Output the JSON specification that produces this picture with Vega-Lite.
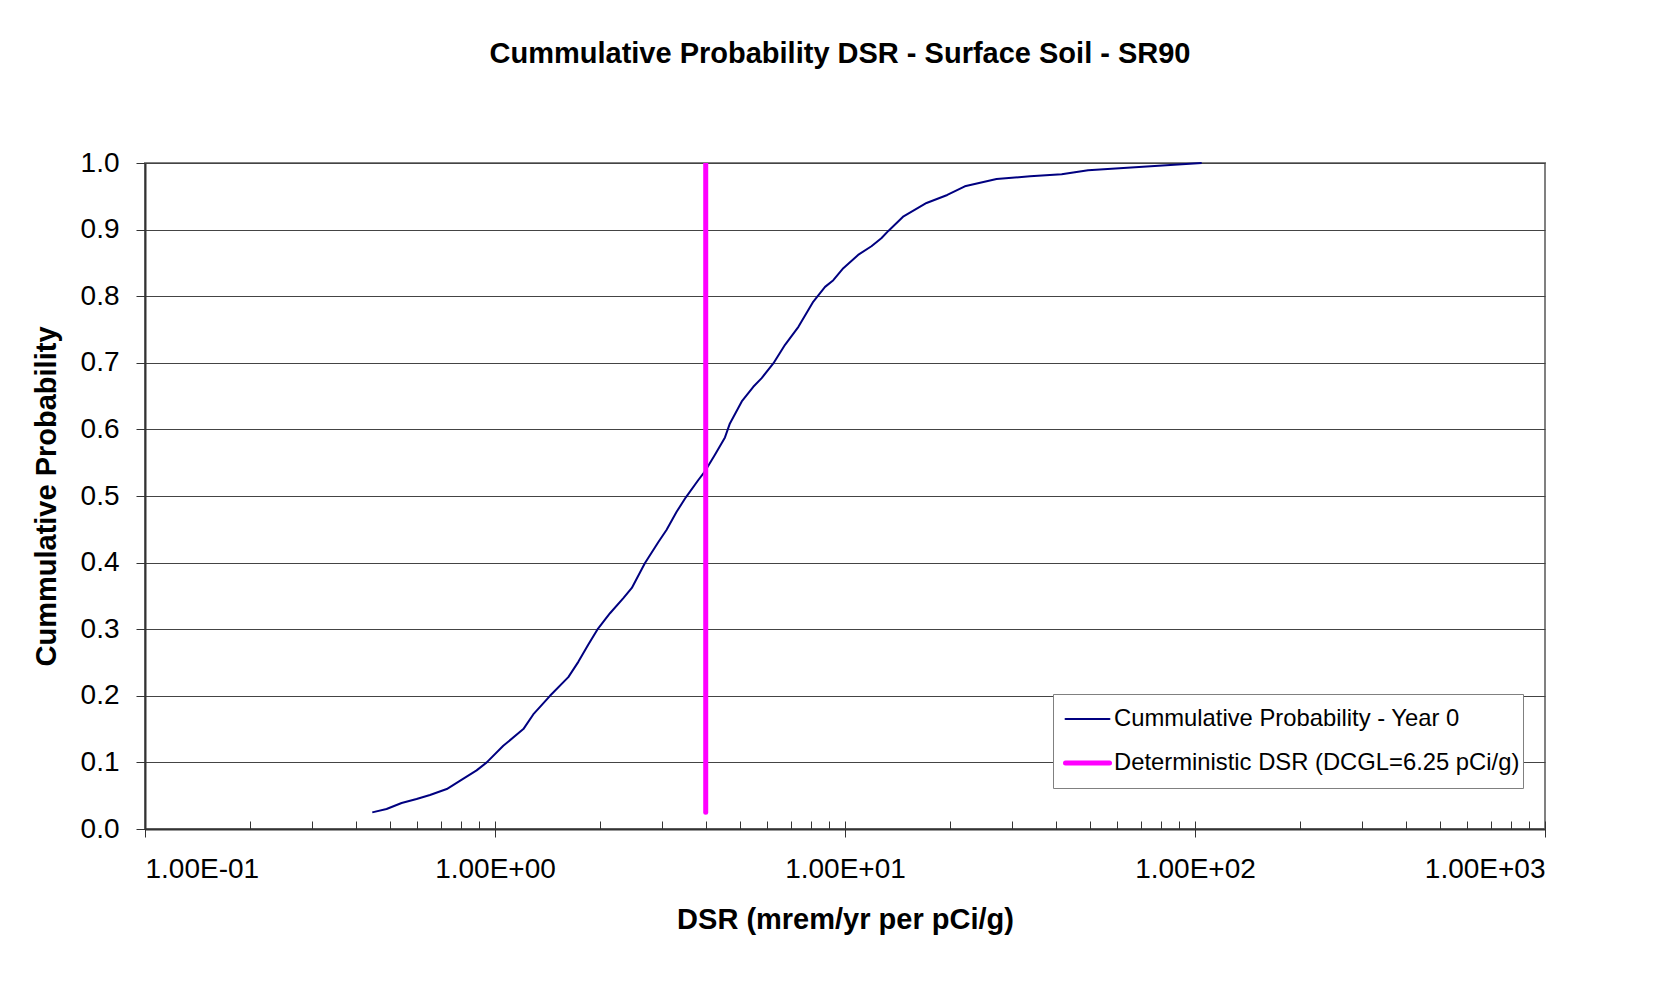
{
  "$schema": "https://vega.github.io/schema/vega-lite/v6.json",
  "width": 1400,
  "height": 666,
  "autosize": {"type": "none"},
  "padding": {"left": 145, "top": 163, "right": 128, "bottom": 154},
  "background": "white",
  "title": {
    "text": "Cummulative Probability DSR - Surface Soil - SR90",
    "font": "Liberation Sans",
    "fontSize": 29,
    "fontWeight": "bold",
    "color": "black",
    "anchor": "middle",
    "offset": 80,
    "dx": -5
  },
  "config": {
    "view": {"stroke": "#808080", "strokeWidth": 2},
    "axis": {
      "labelFont": "Liberation Sans",
      "titleFont": "Liberation Sans",
      "labelColor": "black",
      "titleColor": "black",
      "labelFontSize": 28,
      "titleFontSize": 29,
      "titleFontWeight": "bold",
      "domainColor": "#333333",
      "domainWidth": 2,
      "tickColor": "#333333",
      "tickWidth": 1
    },
    "legend": {
      "title": null,
      "orient": "none",
      "legendX": 908,
      "legendY": 531,
      "symbolType": "stroke",
      "symbolSize": 1936,
      "labelFont": "Liberation Sans",
      "labelFontSize": 23.8,
      "labelColor": "black",
      "labelOffset": 2,
      "labelLimit": 0,
      "padding": 3,
      "symbolOffset": 7,
      "rowPadding": 0,
      "clipHeight": 44,
      "strokeColor": "#808080",
      "fillColor": "white",
      "direction": "vertical"
    }
  },
  "layer": [
    {
      "data": {
        "values": [
          {"series": "Cummulative Probability - Year 0", "dsr": 0.446, "prob": 0.025},
          {"series": "Cummulative Probability - Year 0", "dsr": 0.490, "prob": 0.030},
          {"series": "Cummulative Probability - Year 0", "dsr": 0.541, "prob": 0.039},
          {"series": "Cummulative Probability - Year 0", "dsr": 0.597, "prob": 0.045},
          {"series": "Cummulative Probability - Year 0", "dsr": 0.652, "prob": 0.051},
          {"series": "Cummulative Probability - Year 0", "dsr": 0.728, "prob": 0.060},
          {"series": "Cummulative Probability - Year 0", "dsr": 0.804, "prob": 0.074},
          {"series": "Cummulative Probability - Year 0", "dsr": 0.886, "prob": 0.088},
          {"series": "Cummulative Probability - Year 0", "dsr": 0.947, "prob": 0.100},
          {"series": "Cummulative Probability - Year 0", "dsr": 1.056, "prob": 0.125},
          {"series": "Cummulative Probability - Year 0", "dsr": 1.205, "prob": 0.150},
          {"series": "Cummulative Probability - Year 0", "dsr": 1.286, "prob": 0.172},
          {"series": "Cummulative Probability - Year 0", "dsr": 1.436, "prob": 0.200},
          {"series": "Cummulative Probability - Year 0", "dsr": 1.62, "prob": 0.228},
          {"series": "Cummulative Probability - Year 0", "dsr": 1.73, "prob": 0.251},
          {"series": "Cummulative Probability - Year 0", "dsr": 1.848, "prob": 0.277},
          {"series": "Cummulative Probability - Year 0", "dsr": 1.97, "prob": 0.301},
          {"series": "Cummulative Probability - Year 0", "dsr": 2.131, "prob": 0.324},
          {"series": "Cummulative Probability - Year 0", "dsr": 2.33, "prob": 0.347},
          {"series": "Cummulative Probability - Year 0", "dsr": 2.46, "prob": 0.362},
          {"series": "Cummulative Probability - Year 0", "dsr": 2.68, "prob": 0.399},
          {"series": "Cummulative Probability - Year 0", "dsr": 2.93, "prob": 0.431},
          {"series": "Cummulative Probability - Year 0", "dsr": 3.09, "prob": 0.449},
          {"series": "Cummulative Probability - Year 0", "dsr": 3.30, "prob": 0.476},
          {"series": "Cummulative Probability - Year 0", "dsr": 3.51, "prob": 0.498},
          {"series": "Cummulative Probability - Year 0", "dsr": 3.81, "prob": 0.524},
          {"series": "Cummulative Probability - Year 0", "dsr": 3.98, "prob": 0.537},
          {"series": "Cummulative Probability - Year 0", "dsr": 4.25, "prob": 0.562},
          {"series": "Cummulative Probability - Year 0", "dsr": 4.54, "prob": 0.588},
          {"series": "Cummulative Probability - Year 0", "dsr": 4.69, "prob": 0.609},
          {"series": "Cummulative Probability - Year 0", "dsr": 5.07, "prob": 0.642},
          {"series": "Cummulative Probability - Year 0", "dsr": 5.47, "prob": 0.664},
          {"series": "Cummulative Probability - Year 0", "dsr": 5.78, "prob": 0.677},
          {"series": "Cummulative Probability - Year 0", "dsr": 6.24, "prob": 0.699},
          {"series": "Cummulative Probability - Year 0", "dsr": 6.74, "prob": 0.727},
          {"series": "Cummulative Probability - Year 0", "dsr": 7.36, "prob": 0.754},
          {"series": "Cummulative Probability - Year 0", "dsr": 8.12, "prob": 0.792},
          {"series": "Cummulative Probability - Year 0", "dsr": 8.77, "prob": 0.814},
          {"series": "Cummulative Probability - Year 0", "dsr": 9.26, "prob": 0.824},
          {"series": "Cummulative Probability - Year 0", "dsr": 9.89, "prob": 0.842},
          {"series": "Cummulative Probability - Year 0", "dsr": 10.9, "prob": 0.862},
          {"series": "Cummulative Probability - Year 0", "dsr": 11.9, "prob": 0.875},
          {"series": "Cummulative Probability - Year 0", "dsr": 12.7, "prob": 0.887},
          {"series": "Cummulative Probability - Year 0", "dsr": 13.3, "prob": 0.898},
          {"series": "Cummulative Probability - Year 0", "dsr": 14.7, "prob": 0.920},
          {"series": "Cummulative Probability - Year 0", "dsr": 17.1, "prob": 0.940},
          {"series": "Cummulative Probability - Year 0", "dsr": 19.6, "prob": 0.952},
          {"series": "Cummulative Probability - Year 0", "dsr": 22.0, "prob": 0.965},
          {"series": "Cummulative Probability - Year 0", "dsr": 27.1, "prob": 0.976},
          {"series": "Cummulative Probability - Year 0", "dsr": 33.8, "prob": 0.980},
          {"series": "Cummulative Probability - Year 0", "dsr": 41.6, "prob": 0.983},
          {"series": "Cummulative Probability - Year 0", "dsr": 49.5, "prob": 0.989},
          {"series": "Cummulative Probability - Year 0", "dsr": 104.5, "prob": 1.000}
        ]
      },
      "mark": {"type": "line", "strokeJoin": "round"},
      "encoding": {
        "x": {
          "field": "dsr",
          "type": "quantitative",
          "scale": {"type": "log", "domain": [0.1, 1000], "nice": false},
          "axis": {
            "orient": "bottom",
            "values": [0.1, 1, 10, 100, 1000],
            "labelExpr": "'1.00E' + (datum.value < 1 ? '-' : '+') + '0' + abs(round(log(datum.value) / LN10))",
            "tickSize": 8,
            "labelPadding": 18,
            "grid": false,
            "title": "DSR (mrem/yr per pCi/g)",
            "titlePadding": 22
          }
        },
        "y": {
          "field": "prob",
          "type": "quantitative",
          "scale": {"domain": [0, 1], "nice": false},
          "axis": {
            "values": [0, 0.1, 0.2, 0.3, 0.4, 0.5, 0.6, 0.7, 0.8, 0.9, 1.0],
            "format": ".1f",
            "tickSize": 9,
            "labelPadding": 17,
            "grid": true,
            "gridColor": "#444444",
            "gridWidth": 1,
            "title": "Cummulative Probability",
            "titlePadding": 19
          }
        },
        "color": {
          "field": "series",
          "type": "nominal",
          "scale": {
            "domain": ["Cummulative Probability - Year 0", "Deterministic DSR (DCGL=6.25 pCi/g)"],
            "range": ["#000080", "#FF00FF"]
          },
          "legend": {
            "encode": {
              "symbols": {
                "update": {
                  "stroke": {"scale": "color", "field": "value"},
                  "strokeCap": {"value": "round"}
                }
              }
            }
          }
        },
        "strokeWidth": {
          "field": "series",
          "type": "nominal",
          "scale": {
            "type": "ordinal",
            "domain": ["Cummulative Probability - Year 0", "Deterministic DSR (DCGL=6.25 pCi/g)"],
            "range": [2, 5]
          },
          "legend": {
            "encode": {
              "symbols": {
                "update": {
                  "stroke": {"scale": "color", "field": "value"},
                  "strokeCap": {"value": "round"}
                }
              }
            }
          }
        }
      }
    },
    {
      "data": {
        "values": [
          {"series": "Deterministic DSR (DCGL=6.25 pCi/g)", "dsr": 4, "prob": 0.025, "prob2": 1.0}
        ]
      },
      "mark": {"type": "rule", "strokeCap": "round", "clip": true, "color": "#FF00FF", "strokeWidth": 5},
      "encoding": {
        "x": {
          "field": "dsr",
          "type": "quantitative",
          "axis": {
            "orient": "bottom",
            "values": [0.1, 0.2, 0.3, 0.4, 0.5, 0.6, 0.7, 0.8, 0.9, 1, 2, 3, 4, 5, 6, 7, 8, 9, 10, 20, 30, 40, 50, 60, 70, 80, 90, 100, 200, 300, 400, 500, 600, 700, 800, 900, 1000],
            "tickSize": -8,
            "labels": false,
            "domain": false,
            "grid": false,
            "title": null
          }
        },
        "y": {"field": "prob", "type": "quantitative"},
        "y2": {"field": "prob2"}
      }
    }
  ],
  "resolve": {"axis": {"x": "independent"}}
}
